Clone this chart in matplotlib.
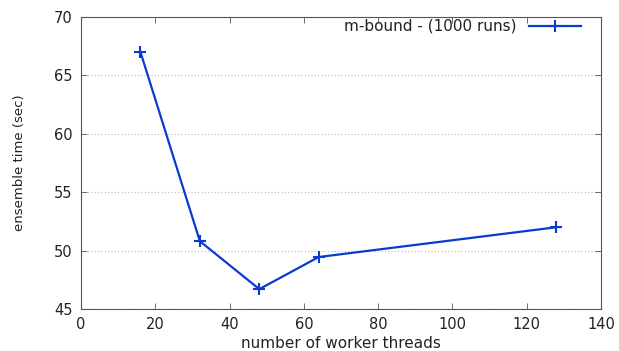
import matplotlib
matplotlib.use("Agg")
import matplotlib.pyplot as plt

threads = [16, 32, 48, 64, 128]
times = [67.0, 50.8, 46.7, 49.45, 52.0]
xticks = [0, 20, 40, 60, 80, 100, 120, 140]
yticks = [45, 50, 55, 60, 65, 70]

plt.rcParams["font.family"] = "DejaVu Sans"

fig = plt.figure(figsize=(6.19, 3.51), dpi=100)
ax = fig.add_axes([0.1309, 0.1197, 0.971 - 0.1309, 0.9516 - 0.1197])

ax.plot(threads, times, color="#0a3bd0", lw=1.6, marker="+", ms=8, mew=1.5,
        label="m-bound - (1000 runs)")

ax.set_xlim(0, 140)
ax.set_ylim(45, 70)
ax.set_xticks(xticks)
ax.set_yticks(yticks)
ax.tick_params(direction="in", top=True, right=True, length=4, width=0.6,
               labelsize=10.5, colors="#555555", labelcolor="#222222", pad=6)
ax.yaxis.grid(True, linestyle=(0, (1, 2)), color="#bbbbbb", lw=0.8)
for s in ax.spines.values():
    s.set_color("#555555")
    s.set_linewidth(0.8)

ax.set_xlabel("number of worker threads", fontsize=11, labelpad=3, color="#222222")
ax.set_ylabel("ensemble time (sec)", fontsize=9.5, labelpad=20, color="#222222")

ax.legend(loc="upper right", bbox_to_anchor=(0.982, 1.03), frameon=False,
          markerfirst=False, fontsize=11, handlelength=3.4,
          borderaxespad=0.3, handletextpad=0.8, labelcolor="#222222")

fig.savefig("out.png", dpi=100)
